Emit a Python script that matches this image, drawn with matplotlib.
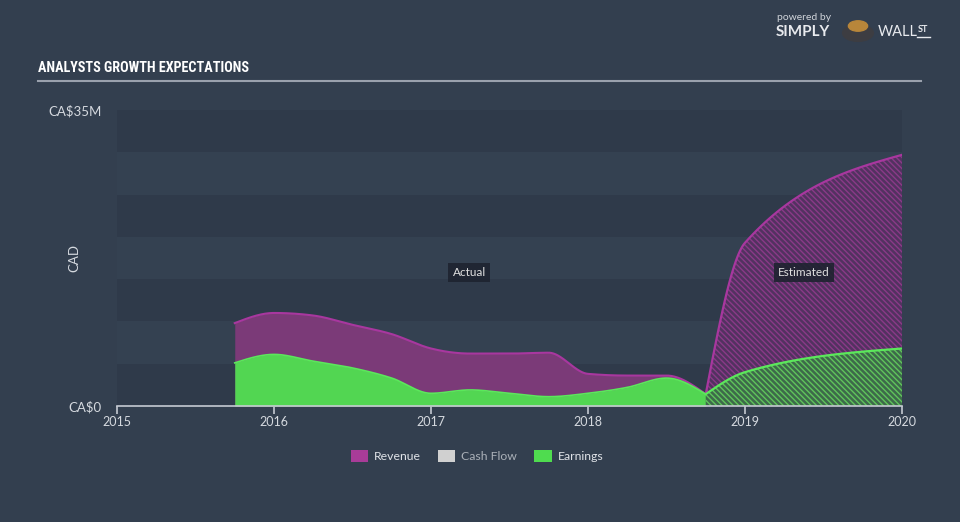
import numpy as np
import matplotlib
matplotlib.use("Agg")
import matplotlib.pyplot as plt
from matplotlib.patches import Patch, Circle
from matplotlib import font_manager

# ---------------- data (CA$ millions) ----------------
actual_dates = [2015.75, 2016.0, 2016.25, 2016.5, 2016.75, 2017.0, 2017.25,
                2017.5, 2017.75, 2018.0, 2018.25, 2018.5, 2018.75]
actual_revenue = [9.8, 11.0, 10.7, 9.6, 8.5, 6.8, 6.2, 6.2, 6.3, 3.8, 3.6, 3.6, 1.4]
actual_earnings = [5.1, 6.1, 5.3, 4.5, 3.3, 1.5, 1.9, 1.5, 1.1, 1.5, 2.2, 3.3, 1.4]

est_dates = [2018.75, 2019.0, 2020.0]
est_revenue = [1.4, 19.3, 29.7]
est_earnings = [1.4, 4.0, 6.8]

year_ticks = [2015, 2016, 2017, 2018, 2019, 2020]
y_labels = ["CA$0", "CA$35M"]
y_label_vals = [0, 35]
legend_names = ["Revenue", "Cash Flow", "Earnings"]

# ---------------- helpers ----------------
def monotone(x, y, n=40):
    x = np.asarray(x, float); y = np.asarray(y, float)
    h = np.diff(x); s = np.diff(y) / h
    m = np.zeros_like(y)
    for i in range(1, len(y) - 1):
        p = (s[i-1] * h[i] + s[i] * h[i-1]) / (h[i-1] + h[i])
        m[i] = (np.sign(s[i-1]) + np.sign(s[i])) * min(abs(s[i-1]), abs(s[i]), 0.5 * abs(p))
    if len(y) > 2:
        m[0] = (3 * s[0] - m[1]) / 2
        m[-1] = (3 * s[-1] - m[-2]) / 2
    else:
        m[0] = m[-1] = s[0]
    xs, ys = [], []
    for i in range(len(h)):
        t = np.linspace(0, 1, n, endpoint=(i == len(h) - 1))
        h00 = 2*t**3 - 3*t**2 + 1; h10 = t**3 - 2*t**2 + t
        h01 = -2*t**3 + 3*t**2; h11 = t**3 - t**2
        xs.append(x[i] + t * h[i])
        ys.append(h00*y[i] + h10*h[i]*m[i] + h01*y[i+1] + h11*h[i]*m[i+1])
    return np.concatenate(xs), np.concatenate(ys)

installed = {f.name for f in font_manager.fontManager.ttflist}
narrow = [f for f in ["Roboto Condensed", "DejaVu Sans Condensed", "Liberation Sans Narrow",
                      "Open Sans Condensed", "Noto Sans Condensed"] if f in installed]
title_family = (narrow[:1] or ["Roboto"]) + ["DejaVu Sans"]
FONT = ["Lato", "DejaVu Sans"]

# ---------------- figure ----------------
BG = "#333f4f"
W, H = 960, 522
fig = plt.figure(figsize=(W/100, H/100), dpi=100, facecolor=BG)
plt.rcParams['hatch.linewidth'] = 1.0

L, R, T, B = 117, 902, 110, 406
ax = fig.add_axes([L/W, 1 - B/H, (R-L)/W, (B-T)/H])
ax.set_facecolor(BG)
ax.set_xlim(2015, 2020)
ax.set_ylim(0, 35)

band_dark, band_light = "#2f3a4a", "#344151"
for k in range(7):
    ax.axhspan(k*5, (k+1)*5, color=band_dark if k % 2 == 0 else band_light, lw=0, zorder=0)

rev_c, rev_line = "#7b3a78", "#a8379f"
ern_c, ern_line = "#52d652", "#5be85b"

xa, ra = monotone(actual_dates, actual_revenue)
_, ea = monotone(actual_dates, actual_earnings)
ax.fill_between(xa, 0, ra, color=rev_c, lw=0, zorder=2)
ax.plot(xa, ra, color=rev_line, lw=1.5, zorder=3)
ax.fill_between(xa, 0, ea, color=ern_c, lw=0, zorder=4)
ax.plot(xa, ea, color=ern_line, lw=1.2, zorder=5)

xe, re = monotone(est_dates, est_revenue)
_, ee = monotone(est_dates, est_earnings)
ax.fill_between(xe, 0, re, facecolor="#523260", edgecolor="#8a3a88",
                hatch="\\\\\\\\\\\\", lw=0, zorder=2)
ax.plot(xe, re, color=rev_line, lw=1.6, zorder=3)
ax.fill_between(xe, 0, ee, facecolor="#3d6a4a", edgecolor="#60c45c",
                hatch="\\\\\\\\\\\\", lw=0, zorder=4)
ax.plot(xe, ee, color=ern_line, lw=1.6, zorder=5)

# axes styling
for sp in ["top", "right", "left"]:
    ax.spines[sp].set_visible(False)
ax.spines["bottom"].set_color("#c5cad2")
ax.spines["bottom"].set_linewidth(1.2)
ax.spines["bottom"].set_zorder(6)
ax.set_xticks(year_ticks)
ax.set_xticklabels([str(y) for y in year_ticks])
ax.tick_params(axis="x", colors="#c5cad2", length=6, width=1.2, labelsize=9,
               labelcolor="#d5d9df", pad=1)
ax.set_yticks(y_label_vals)
ax.set_yticklabels(y_labels)
ax.tick_params(axis="y", length=0, labelsize=9.5, labelcolor="#d5d9df", pad=11)
for lab in ax.get_xticklabels() + ax.get_yticklabels():
    lab.set_family(FONT)
ax.set_ylabel("CAD", color="#d5d9df", fontsize=9.5, family=FONT)
ax.yaxis.set_label_coords(-0.047, 0.5)

# Actual / Estimated labels
bbox = dict(boxstyle="square,pad=0.35", fc="#1e2330", ec="none", alpha=0.9)
ax.text(2017.2435, 15.8, "Actual", color="#e0e0e0", fontsize=8.5, ha="center",
        va="center", bbox=bbox, zorder=7, family=FONT)
ax.text(2019.375, 15.8, "Estimated", color="#e0e0e0", fontsize=8.5, ha="center",
        va="center", bbox=bbox, zorder=7, family=FONT)

# Title and rule
fig.text(38/W, 1 - 68/H, "ANALYSTS GROWTH EXPECTATIONS", color="white", fontsize=10.2,
         fontweight="bold", va="center", ha="left", family=title_family,
         fontstretch="condensed")
fig.add_artist(plt.Line2D([38/W, 921/W], [1 - 81/H, 1 - 81/H], color="#9aa1ad", lw=1.5))

# Logo
fig.text(777/W, 1 - 18/H, "powered by", color="#d0d4da", fontsize=7.5, va="center",
         family=FONT)
fig.text(776/W, 1 - 32/H, "SIMPLY", color="#e8eaee", fontsize=11, fontweight="bold",
         va="center", family=FONT)
fig.text(878/W, 1 - 32/H, "WALL", color="#e8eaee", fontsize=10.5, va="center",
         family=FONT)
fig.text(918/W, 1 - 29/H, "ST", color="#e8eaee", fontsize=6.5, fontweight="bold",
         va="center", family=FONT)
fig.add_artist(plt.Line2D([917/W, 930/W], [1 - 37/H, 1 - 37/H], color="#e8eaee", lw=1))
fig.add_artist(Circle((858/W, 1 - 33/H), 0.016, transform=fig.transFigure,
                      color="#3d3d42"))
fig.add_artist(Circle((858/W, 1 - 26/H), 0.010, transform=fig.transFigure,
                      color="#b8863a"))

# legend
handles = [Patch(facecolor="#a83c98", edgecolor="none"),
           Patch(facecolor="#d0d0d0", edgecolor="none"),
           Patch(facecolor="#4fdc4f", edgecolor="none")]
leg = fig.legend(handles, legend_names, loc="center", bbox_to_anchor=(0.497, 1 - 456/H),
                 ncol=3, frameon=False, handlelength=1.4, handleheight=1.2,
                 columnspacing=1.4, handletextpad=0.5,
                 prop={"family": FONT, "size": 8.8})
for t, c in zip(leg.get_texts(), ["#e0e3e8", "#aab0b8", "#e0e3e8"]):
    t.set_color(c)

fig.savefig("out.png", dpi=100, facecolor=BG)
